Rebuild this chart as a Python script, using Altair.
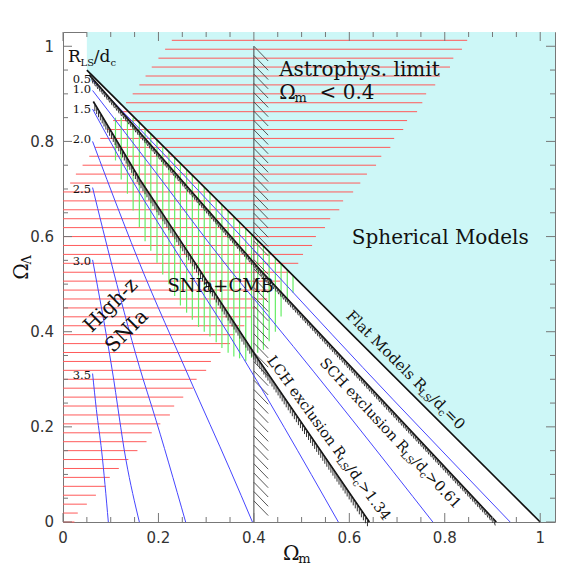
import altair as alt
import pandas as pd
import numpy as np

# ---------------- data ----------------
major_ticks = [0.0, 0.2, 0.4, 0.6, 0.8, 1.0]
major_labels = ["0", "0.2", "0.4", "0.6", "0.8", "1"]
minor_ticks = [0.05, 0.1, 0.15, 0.25, 0.3, 0.35, 0.45, 0.5, 0.55,
               0.65, 0.7, 0.75, 0.85, 0.9, 0.95]

# black boundaries
flat_om = [0.05, 1.0]
flat_ol = [0.95, 0.0]
sch_om = [0.055, 0.413, 0.908]
sch_ol = [0.94, 0.53, 0.0]
lch_om = [0.0635, 0.161, 0.245, 0.405, 0.642]
lch_ol = [0.884, 0.72, 0.593, 0.348, 0.0]

# blue constant R_LS/d_c curves
blue_R = ["0.5", "1.0", "1.5", "2.0", "2.5", "3.0", "3.5"]
blue_om = [
    [0.062, 0.182, 0.692, 0.937],
    [0.062, 0.182, 0.35, 0.441, 0.775],
    [0.062, 0.144, 0.252, 0.35, 0.577],
    [0.062, 0.092, 0.16, 0.266, 0.35, 0.397],
    [0.062, 0.105, 0.168, 0.186, 0.257],
    [0.062, 0.103, 0.132, 0.16],
    [0.062, 0.07, 0.081, 0.095],
]
blue_ol = [
    [0.928, 0.804, 0.257, 0.0],
    [0.907, 0.751, 0.53, 0.42, 0.0],
    [0.868, 0.72, 0.545, 0.39, 0.0],
    [0.80, 0.72, 0.545, 0.30, 0.11, 0.0],
    [0.703, 0.53, 0.30, 0.243, 0.0],
    [0.551, 0.32, 0.13, 0.0],
    [0.312, 0.236, 0.149, 0.0],
]
blue_label_ol = [0.931, 0.911, 0.868, 0.805, 0.70, 0.55, 0.309]

# red (High-z SNIa) hatch lines: level, left end, right end
red_ol = [0.0, 0.0188, 0.0375, 0.0563, 0.075, 0.0938, 0.1125, 0.1313, 0.15, 0.1688,
          0.1875, 0.2063, 0.225, 0.2438, 0.2625, 0.2813, 0.30, 0.3188, 0.3375, 0.3563,
          0.375, 0.3938, 0.4125, 0.4313, 0.45, 0.4688, 0.4875, 0.5063, 0.525, 0.5438,
          0.5625, 0.5813, 0.60, 0.6188, 0.6375, 0.6563, 0.675, 0.6938, 0.7125, 0.7313,
          0.75, 0.7688, 0.7875, 0.8063, 0.825, 0.8438, 0.8625, 0.8813, 0.90, 0.9188,
          0.9375, 0.9563, 0.975, 0.9938, 1.0125]
red_left = [0.0] * 38 + [0.015, 0.027, 0.041, 0.055, 0.067, 0.078, 0.092, 0.105,
                         0.12, 0.132, 0.146, 0.16, 0.173, 0.186, 0.2, 0.214, 0.228]
red_right = [0.024, 0.031, 0.050, 0.069, 0.089, 0.098, 0.117, 0.137, 0.156, 0.175,
             0.186, 0.204, 0.224, 0.233, 0.252, 0.272, 0.28, 0.30, 0.31, 0.33,
             0.35, 0.36, 0.38, 0.396, 0.407, 0.428, 0.434, 0.455, 0.474, 0.493,
             0.503, 0.522, 0.530, 0.549, 0.560, 0.579, 0.587, 0.608, 0.623, 0.637,
             0.656, 0.667, 0.686, 0.694, 0.713, 0.721, 0.742, 0.753, 0.761, 0.780,
             0.790, 0.811, 0.818, 0.836, 0.847]

# green (SNIa+CMB) hatch lines
green_om = [0.110, 0.122, 0.135, 0.147, 0.160, 0.172, 0.184, 0.197, 0.209, 0.222,
            0.234, 0.246, 0.259, 0.271, 0.284, 0.296, 0.308, 0.321, 0.333, 0.346,
            0.358, 0.370, 0.383, 0.395, 0.408, 0.420, 0.432, 0.445, 0.457, 0.470, 0.482]
green_top = [0.85, 0.85, 0.85, 0.85, 0.84, 0.828, 0.816, 0.803, 0.791, 0.778,
             0.766, 0.754, 0.741, 0.729, 0.716, 0.704, 0.692, 0.679, 0.667, 0.654,
             0.642, 0.630, 0.617, 0.605, 0.592, 0.580, 0.568, 0.555, 0.543, 0.530, 0.518]
green_bot = [0.76, 0.72, 0.69, 0.655, 0.62, 0.59, 0.57, 0.545, 0.52, 0.50,
             0.475, 0.455, 0.44, 0.425, 0.41, 0.40, 0.39, 0.378, 0.366, 0.356,
             0.348, 0.344, 0.338, 0.345, 0.356, 0.362, 0.38, 0.40, 0.432, 0.462, 0.482]

# astrophysical limit
astro_om = 0.4
astro_top = 1.0

# cyan (spherical models) region
cyan_om = [0.05, 1.0, 1.031]
cyan_lo = [0.95, 0.0, 0.0]
cyan_hi = 1.03

# ---------------- styling / helpers ----------------
XD = [0, 1.031]
YD = [0, 1.03]
WP, HP = 492, 490
PXX = WP / (XD[1] - XD[0])
PXY = HP / (YD[1] - YD[0])
SERIF = "DejaVu Serif"
SANS = "DejaVu Sans"


def xq(f):
    return alt.X(f, type="quantitative",
                 scale=alt.Scale(domain=XD, nice=False, zero=False), axis=None)


def yq(f):
    return alt.Y(f, type="quantitative",
                 scale=alt.Scale(domain=YD, nice=False, zero=False), axis=None)


WID = {' ': 0.318, '/': 0.337, '=': 0.838, '>': 0.838, '<': 0.838, '.': 0.318,
       '+': 0.838, '-': 0.338,
       'a': 0.596, 'c': 0.560, 'd': 0.640, 'e': 0.592, 'g': 0.640, 'h': 0.644,
       'i': 0.320, 'l': 0.320, 'm': 0.948, 'n': 0.644, 'o': 0.602, 'p': 0.640,
       'r': 0.478, 's': 0.514, 't': 0.402, 'u': 0.644, 'x': 0.564, 'y': 0.565,
       'z': 0.525, 'A': 0.722, 'B': 0.732, 'C': 0.734, 'F': 0.654, 'H': 0.872,
       'I': 0.472, 'L': 0.648, 'M': 0.995, 'N': 0.872, 'R': 0.734, 'S': 0.685,
       'Ω': 0.766, 'Λ': 0.722}
for _d in "0123456789":
    WID[_d] = 0.636


def tw(s, size):
    return sum(WID.get(c, 0.6) for c in s) * size


def rich(x, y, segs, angle=0, anchor="center", color="#111", subshift=0.2):
    total = sum(tw(t, s) for t, s, _ in segs)
    off = -total / 2 if anchor == "center" else 0.0
    base = segs[0][1]
    out = []
    df = pd.DataFrame({"x": [x], "y": [y]})
    for t, s, sub in segs:
        lead = len(t) - len(t.lstrip(" "))
        off += tw(" " * lead, s)
        txt = t.strip(" ")
        dy = 0.36 * base + (subshift * base if sub else 0)
        mk = dict(text=txt, font=SERIF, fontSize=s, align="left",
                  baseline="alphabetic", dx=off, dy=dy, color=color)
        if angle:
            mk["angle"] = angle
        out.append(alt.Chart(df).mark_text(**mk).encode(x=xq("x"), y=yq("y")))
        off += tw(txt, s) + tw(" " * (len(t) - lead - len(txt)), s)
    return out


def hatch(xs, ys, step_px, vec_px, start_px=3.0, end_px=3.0):
    px = np.array(xs) * PXX
    py = -np.array(ys) * PXY
    seg = np.hypot(np.diff(px), np.diff(py))
    cum = np.concatenate([[0], np.cumsum(seg)])
    s = np.arange(start_px, cum[-1] - end_px, step_px)
    hx = np.interp(s, cum, px)
    hy = np.interp(s, cum, py)
    x1 = hx / PXX
    y1 = -hy / PXY
    return pd.DataFrame({"x": x1, "y": y1,
                         "x2": x1 + vec_px[0] / PXX,
                         "y2": y1 - vec_px[1] / PXY})


layers = []

# cyan region
cyan_df = pd.DataFrame({"x": cyan_om, "lo": cyan_lo, "hi": [cyan_hi] * len(cyan_om)})
layers.append(alt.Chart(cyan_df).mark_area(color="#cdf7f7", opacity=1).encode(
    x=xq("x"), y=yq("lo"), y2=alt.Y2("hi")))

# red hatch
red_df = pd.DataFrame({"y": red_ol, "x": red_left, "x2": red_right})
layers.append(alt.Chart(red_df).mark_rule(color="#ff5a5a", strokeWidth=1).encode(
    x=xq("x"), x2=alt.X2("x2"), y=yq("y")))

# green hatch
green_df = pd.DataFrame({"x": green_om, "y": green_bot, "y2": green_top})
layers.append(alt.Chart(green_df).mark_rule(color="#66ee66", strokeWidth=1.2).encode(
    x=xq("x"), y=yq("y"), y2=alt.Y2("y2")))

# astrophysical limit line + hatch
astro_df = pd.DataFrame({"x": [astro_om], "y": [0.0], "y2": [astro_top]})
layers.append(alt.Chart(astro_df).mark_rule(color="#444", strokeWidth=1).encode(
    x=xq("x"), y=yq("y"), y2=alt.Y2("y2")))
ah_y = np.arange(astro_top, 0.03, -0.0195)
ah_df = pd.DataFrame({"x": astro_om, "y": ah_y, "x2": astro_om + 0.03, "y2": ah_y - 0.031})
layers.append(alt.Chart(ah_df).mark_rule(color="#444", strokeWidth=0.9).encode(
    x=xq("x"), y=yq("y"), x2=alt.X2("x2"), y2=alt.Y2("y2")))

# blue curves
rows = []
for i, r in enumerate(blue_R):
    for j, (a, b) in enumerate(zip(blue_om[i], blue_ol[i])):
        rows.append({"id": r, "o": j, "x": a, "y": b})
blue_df = pd.DataFrame(rows)
layers.append(alt.Chart(blue_df).mark_line(color="#4646ff", strokeWidth=1,
                                           interpolate="monotone").encode(
    x=xq("x"), y=yq("y"), detail="id:N", order="o:Q"))

# black boundaries + hatching
for name, xs, ys in [("flat", flat_om, flat_ol), ("sch", sch_om, sch_ol), ("lch", lch_om, lch_ol)]:
    df = pd.DataFrame({"x": xs, "y": ys, "o": range(len(xs))})
    layers.append(alt.Chart(df).mark_line(color="#111", strokeWidth=1.7).encode(
        x=xq("x"), y=yq("y"), order="o:Q"))
sch_h = hatch(sch_om, sch_ol, 3.6, (1.8, 6.5))
lch_h = hatch(lch_om, lch_ol, 3.6, (0.0, 7.0))
for hdf in (sch_h, lch_h):
    layers.append(alt.Chart(hdf).mark_rule(color="#333", strokeWidth=1).encode(
        x=xq("x"), y=yq("y"), x2=alt.X2("x2"), y2=alt.Y2("y2")))


# frame ticks (inward)
def tick_layers(vals, L):
    d = pd.DataFrame({"v": vals})
    return [
        alt.Chart(d).mark_rule(color="#777").encode(x=xq("v"), y=alt.value(HP), y2=alt.value(HP - L)),
        alt.Chart(d).mark_rule(color="#777").encode(x=xq("v"), y=alt.value(0), y2=alt.value(L)),
        alt.Chart(d).mark_rule(color="#777").encode(y=yq("v"), x=alt.value(0), x2=alt.value(L)),
        alt.Chart(d).mark_rule(color="#777").encode(y=yq("v"), x=alt.value(WP), x2=alt.value(WP - L)),
    ]


layers += tick_layers(major_ticks, 9)
layers += tick_layers(minor_ticks, 5)

# tick labels
tl_df = pd.DataFrame({"v": major_ticks, "t": major_labels})
layers.append(alt.Chart(tl_df).mark_text(font=SANS, fontSize=15, color="#333", align="center",
                                         baseline="alphabetic", dy=5.4).encode(
    x=xq("v"), y=alt.value(HP + 16), text="t:N"))
layers.append(alt.Chart(tl_df).mark_text(font=SANS, fontSize=15, color="#333", align="right",
                                         baseline="alphabetic", dy=5.4).encode(
    y=yq("v"), x=alt.value(-9), text="t:N"))

# R_LS/d_c value labels
lab_df = pd.DataFrame({"x": [0.0587] * len(blue_R), "y": blue_label_ol, "t": blue_R})
layers.append(alt.Chart(lab_df).mark_text(font=SERIF, fontSize=11.5, align="right",
                                          baseline="alphabetic", dy=4.2, color="#111").encode(
    x=xq("x"), y=yq("y"), text="t:N"))

# annotations
layers += rich(0.0105, 0.979, [("R", 17, False), ("LS", 10, True), ("/d", 17, False), ("c", 10, True)],
               anchor="left")
layers += rich(0.453, 0.953, [("Astrophys. limit", 20, False)], anchor="left")
layers += rich(0.453, 0.904, [("Ω", 20, False), ("m", 13, True), ("  < 0.4", 20, False)],
               anchor="left", subshift=0.15)
layers += rich(0.79, 0.60, [("Spherical Models", 20, False)])
layers += rich(0.3305, 0.498, [("SNIa+CMB", 18, False)])
layers += rich(0.0985, 0.457, [("High-z", 20, False)], angle=315)
layers += rich(0.133, 0.404, [("SNIa", 20, False)], angle=315)
layers += rich(0.7187, 0.320, [("Flat Models R", 15, False), ("LS", 10, True), ("/d", 15, False),
                               ("c", 10, True), ("=0", 15, False)], angle=45)
layers += rich(0.687, 0.187, [("SCH exclusion R", 14.5, False), ("LS", 10, True), ("/d", 14.5, False),
                              ("c", 10, True), (">0.61", 14.5, False)], angle=47)
layers += rich(0.558, 0.177, [("LCH exclusion R", 14.5, False), ("LS", 10, True), ("/d", 14.5, False),
                              ("c", 10, True), (">1.34", 14.5, False)], angle=54)
# axis titles
layers += rich(0.461, -0.0645, [("Ω", 20, False), ("m", 13, True)], anchor="left", subshift=0.15)
layers += rich(-0.089, 0.509, [("Ω", 20, False), ("Λ", 13, True)], angle=270, anchor="left",
               subshift=0.15)

chart = alt.layer(*layers).properties(
    width=WP, height=HP,
    padding={"left": 55, "top": 24, "right": 20, "bottom": 45},
    autosize=alt.AutoSizeParams(type="none"),
    background="white",
).configure_view(stroke="#777", strokeWidth=1)

chart.save("out.html", embed_options={"renderer": "svg", "actions": False})
